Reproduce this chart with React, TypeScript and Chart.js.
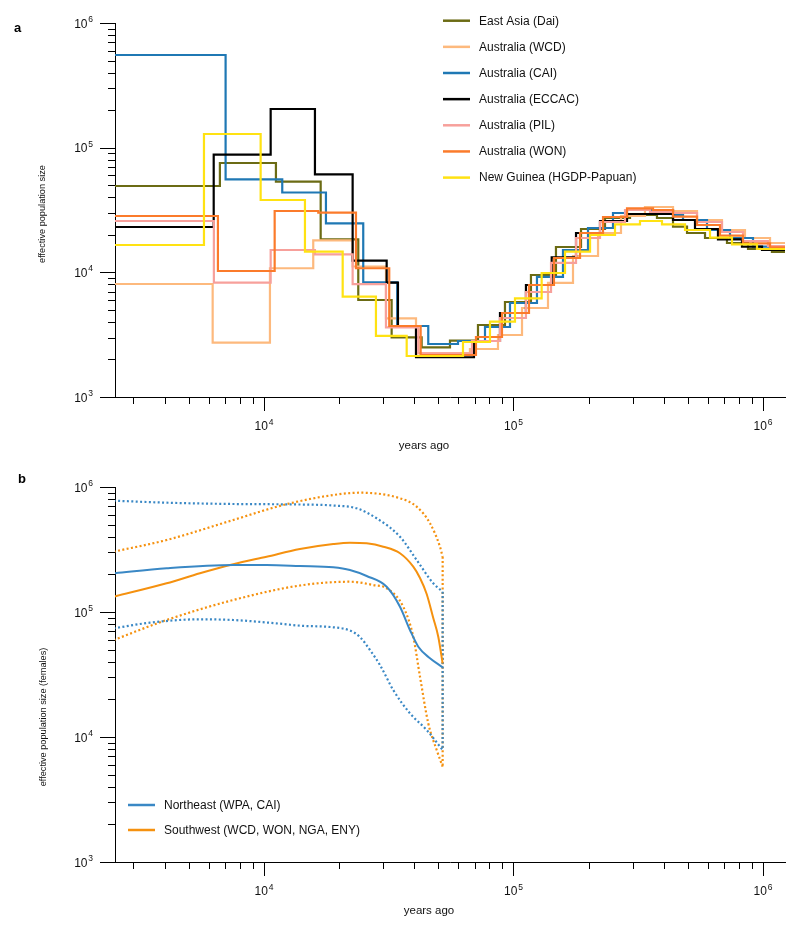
import { useEffect, useRef } from 'react';
import { Chart, registerables } from 'chart.js';

Chart.register(...registerables);

const FONT = "'Liberation Sans', Arial, Helvetica, sans-serif";
Chart.defaults.font.family = FONT;

// ---- axes ----
const X_MIN = 2530;
const X_MAX = 1225000;
const Y_MIN = 1000;
const Y_MAX = 1000000;
const X_TICK_VALUES = [1e4, 1e5, 1e6];
const X_TICK_BASES = ['10', '10', '10'];
const X_TICK_EXPONENTS = ['4', '5', '6'];
const Y_TICK_VALUES = [1e3, 1e4, 1e5, 1e6];
const Y_TICK_BASES = ['10', '10', '10', '10'];
const Y_TICK_EXPONENTS = ['3', '4', '5', '6'];

// ---- panel a : step curves (x = start of interval, years ago; y = effective population size) ----
const LABELS_A = [
  'East Asia (Dai)',
  'Australia (WCD)',
  'Australia (CAI)',
  'Australia (ECCAC)',
  'Australia (PIL)',
  'Australia (WON)',
  'New Guinea (HGDP-Papuan)',
];
const COLORS_A = ['#6b6b14', '#fdb97d', '#1f78b4', '#000000', '#f7a09b', '#fb7b2b', '#ffe212'];

const DAI_X = [2500, 6660, 11170, 16880, 23880, 32490, 42860, 55660, 72070, 92450, 117500, 148000, 186500, 232700, 293100, 375900, 435900, 496000, 585600, 717200, 870700, 1086000, 1250000];
const DAI_Y = [49280, 75370, 53350, 18410, 6001, 3010, 2504, 2829, 3782, 5783, 9520, 15970, 22270, 27290, 28840, 27290, 23240, 20680, 18860, 17190, 15390, 14560, 14560];

const WCD_X = [2500, 6230, 10570, 15760, 22670, 30830, 40680, 66920, 86680, 108200, 137500, 173200, 218200, 269700, 336500, 435900, 543900, 684900, 846800, 1067000, 1250000];
const WCD_Y = [8060, 2727, 10780, 18070, 11140, 4280, 2243, 2427, 3144, 5176, 8240, 13520, 20680, 28310, 33430, 31050, 26300, 21860, 18860, 17190, 17190];

const CAI_X = [2500, 7020, 11840, 17720, 25000, 34210, 45550, 59940, 76890, 96830, 124200, 157900, 198900, 250500, 285100, 435900, 478000, 596400, 737400, 911700, 1250000];
const CAI_Y = [553700, 55760, 43690, 24740, 8320, 3712, 2662, 2813, 3644, 5676, 9180, 15110, 22680, 29920, 31630, 28840, 26300, 21860, 18860, 16060, 16060];

const ECCAC_X = [2500, 6290, 10640, 16010, 22670, 31030, 34440, 40680, 69460, 88300, 112200, 142300, 178100, 222200, 285100, 435900, 533900, 660000, 823700, 990800, 1250000];
const ECCAC_Y = [23110, 87830, 204300, 61140, 12400, 8260, 3644, 2083, 2813, 4720, 7915, 13160, 20680, 25810, 29380, 26300, 22270, 18410, 16060, 15110, 15110];

const PIL_X = [2500, 6300, 10640, 16010, 22670, 30830, 41550, 68190, 88300, 112200, 141400, 178100, 222200, 279900, 352500, 435900, 543900, 684900, 831300, 1047000, 1250000];
const PIL_Y = [25810, 8260, 15110, 13950, 8040, 3622, 2243, 2813, 4303, 6957, 11890, 18860, 25340, 31630, 30520, 29920, 25340, 21070, 17840, 16270, 16270];

const WON_X = [2500, 6540, 11040, 16510, 23380, 31780, 42460, 70750, 89940, 115400, 145300, 184800, 228500, 285100, 362400, 435900, 543900, 672300, 831300, 1067000, 1250000];
const WON_Y = [28310, 10250, 31050, 30090, 10780, 3712, 2173, 3030, 4720, 7915, 13030, 20680, 27800, 32640, 31630, 27940, 23980, 19670, 17100, 15880, 15880];

const PAPUAN_X = [2500, 5750, 9700, 14600, 20680, 28110, 37330, 62760, 80510, 101400, 129700, 160900, 202700, 255200, 321400, 393700, 486900, 613200, 751100, 946000, 1250000];
const PAPUAN_Y = [16570, 128700, 38050, 14640, 6378, 3087, 2133, 2762, 4018, 6192, 9880, 14640, 19930, 24290, 25810, 24290, 21860, 18960, 16790, 15390, 15390];

const SERIES_A_X = [DAI_X, WCD_X, CAI_X, ECCAC_X, PIL_X, WON_X, PAPUAN_X];
const SERIES_A_Y = [DAI_Y, WCD_Y, CAI_Y, ECCAC_Y, PIL_Y, WON_Y, PAPUAN_Y];

// ---- panel b : female effective population size, median and 95% bounds ----
const LABELS_B = ['Northeast (WPA, CAI)', 'Southwest (WCD, WON, NGA, ENY)'];
const BLUE_B = '#3a88c5';
const ORANGE_B = '#f5910f';

const NE_X = [2500, 4074, 7534, 10250, 13940, 18960, 22110, 25800, 31030, 35090, 38470, 41550, 46280, 52020];
const NE_Y = [204000, 223700, 237700, 237700, 233300, 227800, 216800, 194100, 159400, 110300, 71780, 52790, 42620, 36110];

const SW_X = [2500, 4074, 5540, 7534, 10250, 13940, 18960, 22110, 25800, 30080, 35090, 39660, 42210, 44890, 47700, 49960, 52020];
const SW_Y = [132600, 169700, 204000, 240800, 277000, 319200, 349900, 358400, 354400, 333000, 294900, 230400, 187100, 139300, 89540, 63440, 38870];

const NE_HI_X = [2500, 4074, 7534, 13940, 18960, 23520, 28290, 35090, 40930, 47700, 52020];
const NE_HI_Y = [777200, 749000, 731100, 724400, 711200, 675500, 561800, 400400, 260600, 169700, 145400];

const NE_LO_X = [2500, 3492, 5540, 7534, 11950, 13940, 18960, 22110, 24250, 26600, 29170, 32970, 38470, 44890, 52020];
const NE_LO_Y = [74080, 82120, 87420, 86300, 80170, 77700, 75460, 71120, 63100, 49660, 37670, 23770, 15470, 11380, 7870];

const SW_HI_X = [2500, 4074, 7534, 11950, 18960, 24250, 35090, 40930, 46280, 50750, 52020];
const SW_HI_Y = [303700, 376700, 544500, 717800, 863000, 900500, 812100, 695700, 512300, 333000, 277000];

const SW_LO_X = [2500, 4074, 7534, 13940, 22110, 27420, 31030, 36160, 39660, 42210, 45550, 49230, 52020];
const SW_LO_Y = [59700, 86300, 124700, 162900, 174700, 164400, 154700, 110300, 63440, 30370, 12870, 7870, 5786];

// ---------------------------------------------------------------------------

const pts = (xs: number[], ys: number[]) => xs.map((x, i) => ({ x, y: ys[i] }));
const last = (a: number[]) => a[a.length - 1];

type Decor = {
  letter: string; letterX: number; letterY: number;
  xTitle: string; xTitleX: number; xTitleY: number;
  yTitle: string; yTitleX: number; yTitleY: number;
  legendX: number; legendY: number; legendDy: number;
  legendLabels: string[]; legendColors: string[];
};

function drawPow(ctx: CanvasRenderingContext2D, x: number, baseline: number, base: string, exp: string, align: 'center' | 'right') {
  ctx.font = `12px ${FONT}`;
  const w1 = ctx.measureText(base).width;
  ctx.font = `8.5px ${FONT}`;
  const w2 = ctx.measureText(exp).width;
  const total = w1 + 0.8 + w2;
  const x0 = align === 'center' ? x - total / 2 : x - total;
  ctx.textAlign = 'left';
  ctx.textBaseline = 'alphabetic';
  ctx.font = `12px ${FONT}`;
  ctx.fillText(base, x0, baseline);
  ctx.font = `8.5px ${FONT}`;
  ctx.fillText(exp, x0 + w1 + 0.8, baseline - 5.5);
}

function makeDecor(d: Decor) {
  return {
    id: 'decor',
    afterDraw(chart: any) {
      const { ctx, chartArea } = chart;
      const xs = chart.scales.x;
      const ys = chart.scales.y;
      const b = chartArea.bottom;
      const l = chartArea.left;
      ctx.save();
      ctx.strokeStyle = '#000';
      ctx.lineWidth = 1;
      // tick marks (major and minor) on the log axes
      const xe0 = Math.floor(Math.log10(xs.min));
      const xe1 = Math.floor(Math.log10(xs.max));
      for (let e = xe0; e <= xe1; e++) {
        for (let m = 1; m <= 9; m++) {
          const v = m * Math.pow(10, e);
          if (v < xs.min || v > xs.max) continue;
          const p = Math.round(xs.getPixelForValue(v)) + 0.5;
          const len = m === 1 ? 14 : 7;
          ctx.beginPath();
          ctx.moveTo(p, b);
          ctx.lineTo(p, b + len);
          ctx.stroke();
        }
      }
      const ye0 = Math.floor(Math.log10(ys.min));
      const ye1 = Math.floor(Math.log10(ys.max));
      for (let e = ye0; e <= ye1; e++) {
        for (let m = 1; m <= 9; m++) {
          const v = m * Math.pow(10, e);
          if (v < ys.min || v > ys.max) continue;
          const p = Math.round(ys.getPixelForValue(v)) + 0.5;
          const len = m === 1 ? 15 : 7;
          ctx.beginPath();
          ctx.moveTo(l - len, p);
          ctx.lineTo(l, p);
          ctx.stroke();
        }
      }
      // tick labels
      ctx.fillStyle = '#111';
      X_TICK_VALUES.forEach((v, i) => {
        drawPow(ctx, xs.getPixelForValue(v), b + 33, X_TICK_BASES[i], X_TICK_EXPONENTS[i], 'center');
      });
      Y_TICK_VALUES.forEach((v, i) => {
        drawPow(ctx, l - 22, ys.getPixelForValue(v) + 4.5, Y_TICK_BASES[i], Y_TICK_EXPONENTS[i], 'right');
      });
      // axis titles
      ctx.font = `11.5px ${FONT}`;
      ctx.textAlign = 'center';
      ctx.textBaseline = 'middle';
      ctx.fillText(d.xTitle, d.xTitleX, d.xTitleY);
      ctx.save();
      ctx.translate(d.yTitleX, d.yTitleY);
      ctx.rotate(-Math.PI / 2);
      ctx.font = `9.2px ${FONT}`;
      ctx.fillText(d.yTitle, 0, 0);
      ctx.restore();
      // panel letter
      ctx.font = `bold 13px ${FONT}`;
      ctx.textAlign = 'left';
      ctx.textBaseline = 'alphabetic';
      ctx.fillStyle = '#000';
      ctx.fillText(d.letter, d.letterX, d.letterY);
      // legend
      d.legendLabels.forEach((lab, i) => {
        const y = d.legendY + i * d.legendDy;
        ctx.strokeStyle = d.legendColors[i];
        ctx.lineWidth = 2.5;
        ctx.beginPath();
        ctx.moveTo(d.legendX, y);
        ctx.lineTo(d.legendX + 27, y);
        ctx.stroke();
        ctx.fillStyle = '#111';
        ctx.font = `12px ${FONT}`;
        ctx.textBaseline = 'middle';
        ctx.fillText(lab, d.legendX + 36, y + 0.5);
      });
      ctx.restore();
    },
  };
}

function axes(xHeight: number) {
  return {
    x: {
      type: 'logarithmic' as const,
      min: X_MIN,
      max: X_MAX,
      grid: { display: false },
      border: { display: true, color: '#000', width: 1 },
      ticks: { display: false },
      afterFit: (s: any) => { s.height = xHeight; },
    },
    y: {
      type: 'logarithmic' as const,
      min: Y_MIN,
      max: Y_MAX,
      grid: { display: false },
      border: { display: true, color: '#000', width: 1 },
      ticks: { display: false },
      afterFit: (s: any) => { s.width = 115; },
    },
  };
}

function buildTop(): any {
  const datasets = SERIES_A_X.map((xs, i) => ({
    label: LABELS_A[i],
    data: pts(xs, SERIES_A_Y[i]),
    borderColor: COLORS_A[i],
    backgroundColor: COLORS_A[i],
    borderWidth: 2.2,
    pointRadius: 0,
    stepped: 'before',
    fill: false,
    order: 10 - i,
  }));
  return {
    type: 'line',
    data: { datasets },
    options: {
      responsive: false,
      animation: false,
      events: [],
      layout: { padding: { left: 0, right: 15, top: 23, bottom: 0 } },
      plugins: { legend: { display: false }, tooltip: { enabled: false } },
      scales: axes(68),
    },
    plugins: [
      makeDecor({
        letter: 'a', letterX: 14, letterY: 32,
        xTitle: 'years ago', xTitleX: 424, xTitleY: 446,
        yTitle: 'effective population size', yTitleX: 42, yTitleY: 214,
        legendX: 443, legendY: 20.7, legendDy: 26.15,
        legendLabels: LABELS_A, legendColors: COLORS_A,
      }),
    ],
  };
}

function buildBottom(): any {
  const solid = (label: string, xs: number[], ys: number[], color: string) => ({
    label,
    data: pts(xs, ys),
    borderColor: color,
    backgroundColor: color,
    borderWidth: 2,
    pointRadius: 0,
    cubicInterpolationMode: 'monotone',
    fill: false,
    order: 0,
  });
  const dotted = (label: string, data: { x: number; y: number }[], color: string, mono: boolean) => ({
    label,
    data,
    borderColor: color,
    backgroundColor: color,
    borderWidth: 2.2,
    borderDash: [2, 2.4],
    pointRadius: 0,
    cubicInterpolationMode: mono ? 'monotone' : 'default',
    tension: 0,
    fill: false,
    order: 1,
  });
  const datasets = [
    solid(LABELS_B[0], NE_X, NE_Y, BLUE_B),
    solid(LABELS_B[1], SW_X, SW_Y, ORANGE_B),
    dotted('NE upper', pts(NE_HI_X, NE_HI_Y), BLUE_B, true),
    dotted('NE lower', pts(NE_LO_X, NE_LO_Y), BLUE_B, true),
    dotted('NE close', [{ x: last(NE_HI_X), y: last(NE_HI_Y) }, { x: last(NE_LO_X), y: last(NE_LO_Y) }], BLUE_B, false),
    dotted('SW upper', pts(SW_HI_X, SW_HI_Y), ORANGE_B, true),
    dotted('SW lower', pts(SW_LO_X, SW_LO_Y), ORANGE_B, true),
    dotted('SW close', [{ x: last(SW_HI_X), y: last(SW_HI_Y) }, { x: last(SW_LO_X), y: last(SW_LO_Y) }], ORANGE_B, false),
  ];
  return {
    type: 'line',
    data: { datasets },
    options: {
      responsive: false,
      animation: false,
      events: [],
      layout: { padding: { left: 0, right: 15, top: 22, bottom: 0 } },
      plugins: { legend: { display: false }, tooltip: { enabled: false } },
      scales: axes(69),
    },
    plugins: [
      makeDecor({
        letter: 'b', letterX: 18, letterY: 17.7,
        xTitle: 'years ago', xTitleX: 429, xTitleY: 446,
        yTitle: 'effective population size (females)', yTitleX: 43, yTitleY: 252,
        legendX: 128, legendY: 340, legendDy: 25,
        legendLabels: LABELS_B, legendColors: [BLUE_B, ORANGE_B],
      }),
    ],
  };
}

export default function App() {
  const refA = useRef<HTMLCanvasElement>(null);
  const refB = useRef<HTMLCanvasElement>(null);
  useEffect(() => {
    if (!refA.current || !refB.current) return;
    const a = new Chart(refA.current, buildTop());
    const b = new Chart(refB.current, buildBottom());
    return () => {
      a.destroy();
      b.destroy();
    };
  }, []);
  return (
    <div style={{ position: 'absolute', left: 0, top: 0, width: 800, height: 931, background: '#fff' }}>
      <canvas ref={refA} width={800} height={465} style={{ position: 'absolute', left: 0, top: 0, width: 800, height: 465 }} />
      <canvas ref={refB} width={800} height={466} style={{ position: 'absolute', left: 0, top: 465, width: 800, height: 466 }} />
    </div>
  );
}
